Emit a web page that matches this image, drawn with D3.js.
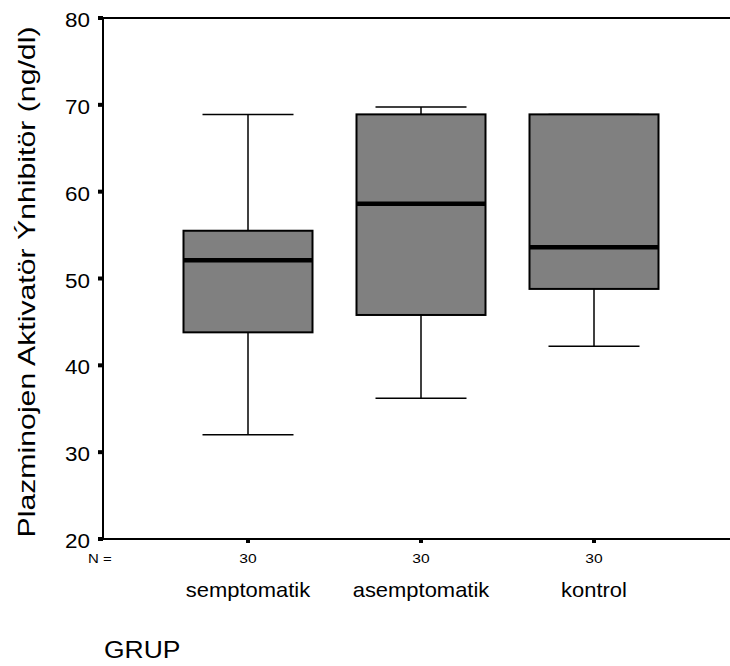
<!DOCTYPE html>
<html>
<head>
<meta charset="utf-8">
<script src="https://cdn.jsdelivr.net/npm/d3@7"></script>
<style>
  html, body { margin: 0; padding: 0; background: #fff; }
  svg { display: block; font-family: "Liberation Sans", Arial, sans-serif; }
</style>
</head>
<body>
<svg id="chart" width="730" height="666"></svg>
<script>
// Groups and their five-number summaries
const groups = ["semptomatik", "asemptomatik", "kontrol"];
const counts = [30, 30, 30];
const whiskerLow = [32.0, 36.2, 42.2];
const q1 = [43.8, 45.8, 48.8];
const median = [52.1, 58.6, 53.6];
const q3 = [55.5, 68.9, 68.9];
const whiskerHigh = [68.9, 69.75, 68.9];
const yTicks = [20, 30, 40, 50, 60, 70, 80];

(function () {
  const svg = d3.select("#chart");
  const plotLeft = 103, plotTop = 18, plotBottom = 539, plotRight = 730;

  // category centres
  const xc = d3.scalePoint().domain(groups).range([248, 594]);
  const y = d3.scaleLinear().domain([20, 80]).range([plotBottom, plotTop]);

  const boxW = 129, capW = 91;

  // widen text horizontally like the original plotting program does
  function stretch(sel, k) {
    sel.each(function () {
      const len = this.getComputedTextLength();
      d3.select(this).attr("textLength", len * k).attr("lengthAdjust", "spacingAndGlyphs");
    });
  }

  // Frame: top, left and bottom lines
  const frame = [
    [plotLeft, plotTop, plotRight, plotTop],
    [plotLeft, plotTop, plotLeft, plotBottom],
    [plotLeft, plotBottom, plotRight, plotBottom]
  ];
  svg.selectAll(".frame").data(frame).enter().append("line").attr("class", "frame")
    .attr("x1", d => d[0]).attr("y1", d => d[1]).attr("x2", d => d[2]).attr("y2", d => d[3])
    .attr("stroke", "#000").attr("stroke-width", 2);

  // Y ticks: small squares left of axis
  const yAxis = svg.append("g");
  yAxis.selectAll("rect").data(yTicks).enter().append("rect")
    .attr("x", plotLeft - 5).attr("y", d => y(d) - 2).attr("width", 5).attr("height", 4).attr("fill", "#000");
  yAxis.selectAll("text").data(yTicks).enter().append("text")
    .attr("x", plotLeft - 13).attr("y", d => y(d) + 9)
    .attr("text-anchor", "end").attr("font-size", 19.5).text(d => d)
    .call(stretch, 1.15);

  // X ticks
  svg.selectAll(".xt").data(groups).enter().append("rect").attr("class", "xt")
    .attr("x", d => xc(d) - 2).attr("y", plotBottom).attr("width", 4).attr("height", 4).attr("fill", "#000");

  // N = and counts
  svg.append("text").attr("x", 88).attr("y", 563).attr("font-size", 13).text("N =")
    .call(stretch, 1.15);
  svg.selectAll(".cnt").data(groups).enter().append("text").attr("class", "cnt")
    .attr("x", d => xc(d)).attr("y", 563).attr("text-anchor", "middle").attr("font-size", 13)
    .text((d, i) => counts[i])
    .call(stretch, 1.2);

  // Category labels
  svg.selectAll(".cat").data(groups).enter().append("text").attr("class", "cat")
    .attr("x", d => xc(d)).attr("y", 597).attr("text-anchor", "middle").attr("font-size", 21)
    .text(d => d)
    .call(stretch, 1.045);

  // Axis titles
  svg.append("text").attr("x", 104).attr("y", 658).attr("font-size", 23).text("GRUP")
    .call(stretch, 1.15);
  svg.append("text")
    .attr("transform", `translate(35,282) rotate(-90)`)
    .attr("text-anchor", "middle").attr("font-size", 24)
    .text("Plazminojen Aktivatör Ýnhibitör (ng/dl)")
    .call(stretch, 1.26);

  // Boxes and whiskers
  const g = svg.selectAll(".box").data(groups).enter().append("g").attr("class", "box");
  g.append("line").attr("x1", d => xc(d)).attr("x2", d => xc(d))
    .attr("y1", (d, i) => y(whiskerHigh[i])).attr("y2", (d, i) => y(q3[i]))
    .attr("stroke", "#000").attr("stroke-width", 1.5);
  g.append("line").attr("x1", d => xc(d)).attr("x2", d => xc(d))
    .attr("y1", (d, i) => y(q1[i])).attr("y2", (d, i) => y(whiskerLow[i]))
    .attr("stroke", "#000").attr("stroke-width", 1.5);
  g.append("line").attr("x1", d => xc(d) - capW / 2).attr("x2", d => xc(d) + capW / 2)
    .attr("y1", (d, i) => y(whiskerHigh[i])).attr("y2", (d, i) => y(whiskerHigh[i]))
    .attr("stroke", "#000").attr("stroke-width", 1.5);
  g.append("line").attr("x1", d => xc(d) - capW / 2).attr("x2", d => xc(d) + capW / 2)
    .attr("y1", (d, i) => y(whiskerLow[i])).attr("y2", (d, i) => y(whiskerLow[i]))
    .attr("stroke", "#000").attr("stroke-width", 1.5);
  g.append("rect").attr("x", d => xc(d) - boxW / 2).attr("width", boxW)
    .attr("y", (d, i) => y(q3[i])).attr("height", (d, i) => y(q1[i]) - y(q3[i]))
    .attr("fill", "#808080").attr("stroke", "#000").attr("stroke-width", 2);
  g.append("line").attr("x1", d => xc(d) - boxW / 2).attr("x2", d => xc(d) + boxW / 2)
    .attr("y1", (d, i) => y(median[i])).attr("y2", (d, i) => y(median[i]))
    .attr("stroke", "#000").attr("stroke-width", 4.5);
})();
</script>
</body>
</html>
